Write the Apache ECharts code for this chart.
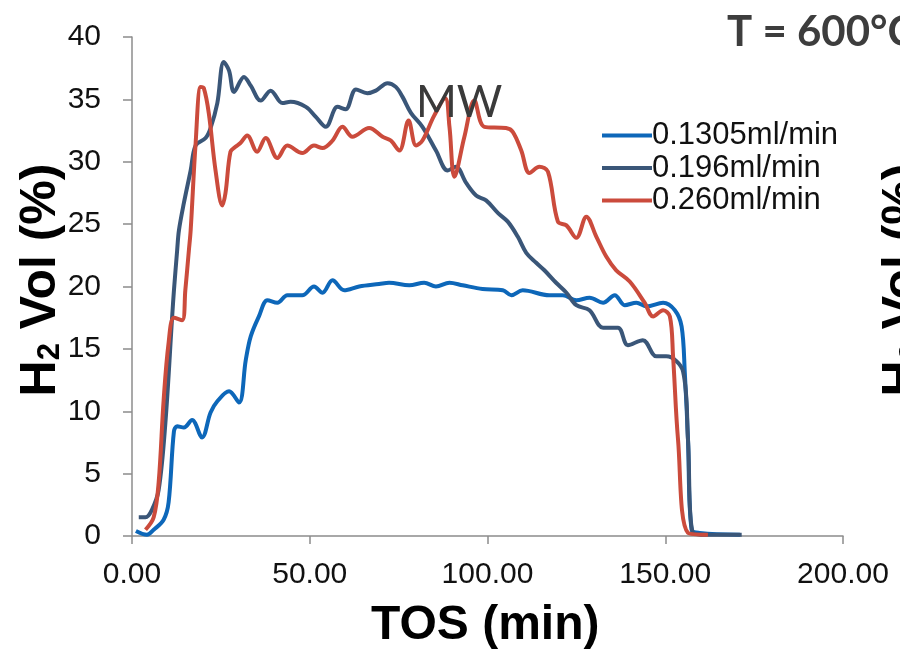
<!DOCTYPE html>
<html>
<head>
<meta charset="utf-8">
<script src="https://cdn.jsdelivr.net/npm/echarts@6/dist/echarts.min.js"></script>
<style>html,body{margin:0;padding:0;background:#fff;}#c{width:900px;height:651px;}</style>
</head>
<body>
<div id="c"></div>
<script>
// ---- data ----
const seriesNames = ['0.1305ml/min', '0.196ml/min', '0.260ml/min'];
const xTicks = [0, 50, 100, 150, 200];
const yTicks = [0, 5, 10, 15, 20, 25, 30, 35, 40];

const blueX = [1.1, 4.2, 6.1, 8.9, 10.3, 11.8, 12.7, 14.6, 16.9, 19.7, 22.1, 24.0, 27.3, 30.1, 32.0, 33.4, 35.7, 38.1, 40.9, 43.7, 47.9, 51.2, 53.6, 56.4, 59.7, 63.9, 69.5, 72.3, 78.0, 82.2, 85.5, 89.3, 93.0, 98.6, 104.3, 106.7, 109.9, 117.4, 121.2, 125.0, 128.7, 132.5, 135.8, 138.6, 141.9, 144.7, 149.4, 152.7, 154.6, 155.5, 156.4, 157.4, 159.7, 171.0];
const blueY = [0.4, 0.1, 0.5, 1.3, 2.7, 8.4, 8.8, 8.7, 9.3, 7.9, 9.9, 10.8, 11.6, 10.7, 14.1, 16.0, 17.6, 18.9, 18.7, 19.3, 19.3, 20.0, 19.5, 20.5, 19.7, 20.0, 20.2, 20.3, 20.1, 20.3, 20.0, 20.3, 20.1, 19.8, 19.7, 19.3, 19.7, 19.3, 19.3, 18.9, 19.1, 18.7, 19.3, 18.5, 18.7, 18.4, 18.7, 18.1, 16.8, 13.1, 7.7, 0.5, 0.25, 0.1];

const darkX = [1.9, 3.8, 5.6, 7.5, 9.4, 11.3, 11.8, 12.7, 13.2, 14.6, 16.5, 17.9, 20.7, 22.1, 24.0, 25.8, 27.3, 28.7, 31.5, 33.4, 36.2, 39.0, 42.3, 44.6, 48.9, 51.7, 54.5, 57.8, 60.1, 63.0, 66.2, 68.6, 71.9, 74.2, 76.1, 78.5, 81.7, 85.5, 88.8, 91.1, 94.0, 96.8, 99.6, 102.9, 105.7, 108.5, 110.9, 113.7, 116.0, 119.3, 122.2, 125.0, 128.7, 132.5, 136.7, 139.5, 143.7, 147.5, 150.3, 155.0, 156.4, 157.8, 162.0, 171.5];
const darkY = [1.5, 1.5, 2.1, 3.7, 9.1, 17.6, 19.7, 22.9, 24.5, 26.7, 29.3, 31.3, 31.9, 32.7, 34.7, 38.0, 37.3, 35.6, 36.8, 36.1, 34.9, 35.7, 34.7, 34.8, 34.4, 33.6, 32.8, 34.4, 34.2, 35.8, 35.5, 35.7, 36.3, 36.0, 35.2, 33.9, 32.8, 30.9, 29.3, 29.6, 28.3, 27.3, 26.9, 25.9, 25.2, 24.0, 22.7, 21.9, 21.3, 20.3, 19.5, 18.5, 18.1, 16.7, 16.7, 15.3, 15.7, 14.4, 14.4, 13.2, 7.7, 0.25, 0.1, 0.1];

const redX = [3.8, 6.1, 7.5, 8.9, 10.3, 11.8, 14.1, 15.0, 16.0, 16.5, 17.9, 19.3, 20.2, 21.6, 23.5, 25.4, 26.3, 27.7, 29.1, 30.5, 32.4, 35.2, 37.6, 40.9, 43.7, 47.9, 51.2, 53.6, 56.4, 59.2, 62.0, 66.7, 70.5, 72.8, 75.2, 77.8, 79.9, 81.7, 85.0, 88.1, 89.3, 90.7, 93.5, 96.3, 99.1, 105.2, 107.1, 109.5, 111.8, 114.6, 117.0, 119.8, 122.2, 125.0, 127.8, 130.6, 133.4, 136.2, 140.0, 144.2, 146.6, 149.4, 151.3, 152.2, 153.6, 156.4, 162.0];
const redY = [0.5, 1.5, 4.3, 10.9, 15.5, 17.5, 17.3, 19.7, 22.9, 24.5, 31.5, 36.0, 35.9, 33.9, 29.3, 26.5, 27.5, 30.8, 31.2, 31.5, 32.1, 30.8, 31.9, 30.3, 31.3, 30.7, 31.3, 31.1, 31.7, 32.8, 32.0, 32.7, 32.0, 31.7, 30.9, 33.3, 31.3, 31.7, 33.7, 35.1, 32.8, 28.8, 32.0, 34.9, 32.8, 32.7, 32.4, 30.9, 29.1, 29.6, 29.2, 25.2, 24.9, 23.9, 25.6, 24.0, 22.4, 21.3, 20.4, 18.7, 17.6, 18.1, 17.6, 14.4, 7.7, 0.25, 0.1];

const colors = ['#0d67b9', '#3a5678', '#cb4b3c'];
const zip = (xs, ys) => xs.map((x, i) => [x, ys[i]]);

const chart = echarts.init(document.getElementById('c'), null, {renderer: 'canvas'});
const axisGray = '#8c8c8c';
const tickFont = 'Liberation Sans, Arial, sans-serif';
const yTitleRich = {
  a: {font: 'bold 50px Liberation Sans, Arial, sans-serif', fill: '#000', lineHeight: 50, verticalAlign: 'bottom'},
  b: {font: 'bold 31px Liberation Sans, Arial, sans-serif', fill: '#000', lineHeight: 31, verticalAlign: 'bottom', padding: [19, 0, 0, 0]}
};

chart.setOption({
  animation: false,
  backgroundColor: '#fff',
  color: colors,
  grid: {left: 132, right: 57, top: 37, bottom: 115, containLabel: false},
  xAxis: {
    type: 'value', min: 0, max: 200, interval: 50,
    axisLine: {show: true, lineStyle: {color: axisGray, width: 1.5}},
    axisTick: {show: true, length: 8, lineStyle: {color: axisGray, width: 1.5}},
    splitLine: {show: false},
    axisLabel: {margin: 24, fontSize: 30, color: '#111', fontFamily: tickFont,
      formatter: v => v.toFixed(2), showMaxLabel: true}
  },
  yAxis: {
    type: 'value', min: 0, max: 40, interval: 5,
    axisLine: {show: true, lineStyle: {color: axisGray, width: 1.5}},
    axisTick: {show: true, length: 9, lineStyle: {color: axisGray, width: 1.5}},
    splitLine: {show: false},
    axisLabel: {margin: 31, fontSize: 30, color: '#111', fontFamily: tickFont}
  },
  legend: {
    orient: 'vertical', left: 597, top: 115,
    icon: 'rect', itemWidth: 50, itemHeight: 4, itemGap: 1.5,
    textStyle: {fontSize: 31, fontFamily: tickFont, color: '#111', lineHeight: 31, padding: [0, 0, 0, -5]},
    data: seriesNames
  },
  series: [
    {name: seriesNames[0], type: 'line', data: zip(blueX, blueY), smooth: 0.35, showSymbol: false, symbol: 'none', lineStyle: {width: 4, color: colors[0]}, itemStyle: {color: colors[0]}, z: 3},
    {name: seriesNames[1], type: 'line', data: zip(darkX, darkY), smooth: 0.35, showSymbol: false, symbol: 'none', lineStyle: {width: 4, color: colors[1]}, itemStyle: {color: colors[1]}, z: 4},
    {name: seriesNames[2], type: 'line', data: zip(redX, redY), smooth: 0.35, showSymbol: false, symbol: 'none', lineStyle: {width: 4, color: colors[2]}, itemStyle: {color: colors[2]}, z: 5}
  ],
  graphic: [
    {type: 'text', left: 486 - 115, top: 602, z: 10,
      style: {text: 'TOS (min)', font: 'bold 48px Liberation Sans, Arial, sans-serif', fill: '#000'}},
    {type: 'text', x: 41, y: 280, rotation: Math.PI / 2, z: 10,
      style: {text: '{a|H}{b|2}{a| Vol (%)}', align: 'center', verticalAlign: 'middle', rich: yTitleRich}},
    {type: 'text', x: 903, y: 280, rotation: Math.PI / 2, z: 10,
      style: {text: '{a|H}{b|2}{a| Vol (%)}', align: 'center', verticalAlign: 'middle', rich: yTitleRich}},
    {type: 'text', x: 727, y: 32, z: 10,
      style: {text: 'T = 600°C', font: 'bold 42px Lato, sans-serif', fill: '#3d3d3d', verticalAlign: 'middle'}},
    {type: 'text', x: 416, y: 103, z: 10,
      style: {text: 'MW', font: '44px Lato, sans-serif', fill: '#3a3a3a', verticalAlign: 'middle'}}
  ]
});
</script>
</body>
</html>
